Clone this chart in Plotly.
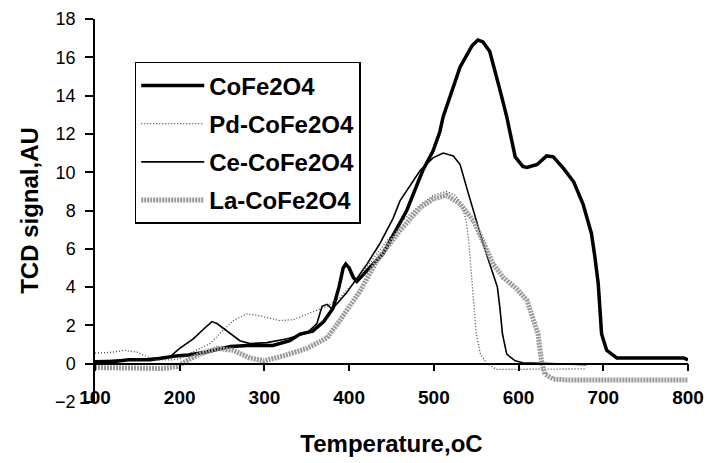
import plotly.graph_objects as go

# ---- data ----
co_T = [100, 120, 140, 165, 180, 195, 210, 230, 250, 260, 280, 310, 330, 342, 357, 370, 381, 388, 393, 396, 400, 405, 409, 420, 440, 468, 487, 499, 507, 511, 531, 545, 552, 558, 566, 578, 586, 596, 605, 610, 622, 633, 641, 653, 665, 676, 686, 690, 694, 698, 704, 716, 750, 795, 800]
co_v = [0.1, 0.1, 0.2, 0.2, 0.3, 0.4, 0.45, 0.6, 0.8, 0.9, 0.95, 0.95, 1.2, 1.55, 1.7, 2.2, 2.9, 4.0, 5.0, 5.2, 5.0, 4.5, 4.3, 4.8, 5.75, 8.0, 10.1, 11.1, 12.1, 12.9, 15.5, 16.6, 16.9, 16.8, 16.3, 14.3, 12.9, 10.8, 10.3, 10.25, 10.4, 10.85, 10.8, 10.2, 9.5, 8.35, 6.8, 5.6, 4.2, 1.55, 0.7, 0.3, 0.3, 0.3, 0.2]

pd_T = [100, 120, 135, 150, 162, 175, 190, 200, 210, 225, 236, 250, 263, 279, 295, 318, 334, 354, 374, 389, 413, 440, 464, 484, 500, 515, 525, 532, 538, 541, 544, 547, 550, 555, 563, 574, 620, 680]
pd_v = [0.55, 0.6, 0.7, 0.6, 0.35, 0.2, 0.2, 0.25, 0.5, 0.8, 1.05, 1.7, 2.25, 2.6, 2.5, 2.25, 2.3, 2.65, 3.0, 3.45, 4.6, 6.15, 7.5, 8.3, 8.8, 9.0, 8.8, 8.4, 7.5, 6.5, 5.0, 3.3, 1.6, 0.5, 0.0, -0.3, -0.3, -0.27]

ce_T = [100, 150, 170, 188, 200, 216, 228, 238, 244, 256, 271, 283, 303, 327, 350, 362, 368, 374, 380, 397, 421, 436, 452, 460, 484, 499, 511, 523, 531, 540, 549, 558, 566, 575, 578, 581, 586, 596, 605, 640, 657, 680]
ce_v = [0.15, 0.2, 0.3, 0.35, 0.8, 1.3, 1.8, 2.2, 2.1, 1.7, 1.2, 1.05, 1.1, 1.3, 1.6, 2.1, 3.0, 3.1, 2.85, 3.7, 5.2, 6.25, 7.6, 8.5, 10.1, 10.75, 11.0, 10.85, 10.4, 9.0, 7.6, 6.3, 5.2, 4.0, 2.9, 1.55, 0.5, 0.15, 0.05, 0.0, -0.05, -0.05]

la_T = [100, 150, 180, 197, 210, 224, 244, 263, 283, 299, 322, 350, 374, 389, 413, 433, 460, 484, 499, 515, 531, 547, 558, 570, 582, 598, 610, 617, 623, 627, 631, 641, 657, 700, 800]
la_v = [-0.2, -0.2, -0.25, -0.15, 0.2, 0.5, 0.8, 0.7, 0.3, 0.15, 0.4, 0.8, 1.35, 2.25, 3.8, 5.4, 6.95, 8.15, 8.6, 8.8, 8.35, 7.45, 6.4, 5.2, 4.5, 3.9, 3.3, 2.4, 1.55, 0.15, -0.55, -0.8, -0.85, -0.85, -0.85]

x_ticks = [100, 200, 300, 400, 500, 600, 700, 800]
y_ticks = [-2, 0, 2, 4, 6, 8, 10, 12, 14, 16, 18]

FONT = "Liberation Sans, Arial, sans-serif"

fig = go.Figure()
fig.add_trace(go.Scatter(x=co_T, y=co_v, mode="lines", name="<b>CoFe2O4</b>",
                         line=dict(color="black", width=3.5), legendgroup="a"))
fig.add_trace(go.Scatter(x=pd_T, y=pd_v, mode="lines", name="<b>Pd-CoFe2O4</b>",
                         line=dict(color="#444444", width=1.3, dash="1px,2px"), legendgroup="b"))
fig.add_trace(go.Scatter(x=ce_T, y=ce_v, mode="lines", name="<b>Ce-CoFe2O4</b>",
                         line=dict(color="black", width=1.6), legendgroup="c"))
fig.add_trace(go.Scatter(x=la_T, y=la_v, mode="lines", name="<b>La-CoFe2O4</b>",
                         line=dict(color="#999999", width=5, dash="2px,1px"), legendgroup="d"))

fig.update_layout(
    width=707, height=463,
    margin=dict(l=95, r=19, t=19, b=61),
    paper_bgcolor="white", plot_bgcolor="white",
    font=dict(family=FONT, color="black"),
    showlegend=True,
    legend=dict(x=0.067, y=0.888, xanchor="left", yanchor="top",
                bordercolor="black", borderwidth=1.5, bgcolor="white",
                font=dict(size=24, family=FONT, color="black"),
                itemwidth=63, tracegroupgap=4, traceorder="grouped"),
    xaxis=dict(range=[100, 800], tickvals=x_ticks, ticktext=[f"<b>{t}</b>" for t in x_ticks],
               anchor="free", position=0.1, automargin=False,
               showline=True, linecolor="black", linewidth=1.5,
               ticks="outside", ticklen=7, tickcolor="black", tickwidth=1.5,
               ticklabelstandoff=10,
               tickfont=dict(size=19, family=FONT),
               showgrid=False, zeroline=False,
               title=dict(text="<b>Temperature,oC</b>", font=dict(size=24, family=FONT), standoff=27)),
    yaxis=dict(range=[-2, 18], tickvals=y_ticks, automargin=False,
               showline=True, linecolor="black", linewidth=1.5,
               ticks="outside", ticklen=8, tickcolor="black", tickwidth=1.5,
               ticklabelstandoff=6,
               tickfont=dict(size=18, family=FONT),
               showgrid=False, zeroline=False,
               title=dict(text="<b>TCD signal,AU</b>", font=dict(size=24, family=FONT), standoff=10)),
)

fig.write_html("out.html", config={"displayModeBar": False},
               post_script="document.body.style.margin='0px';")
